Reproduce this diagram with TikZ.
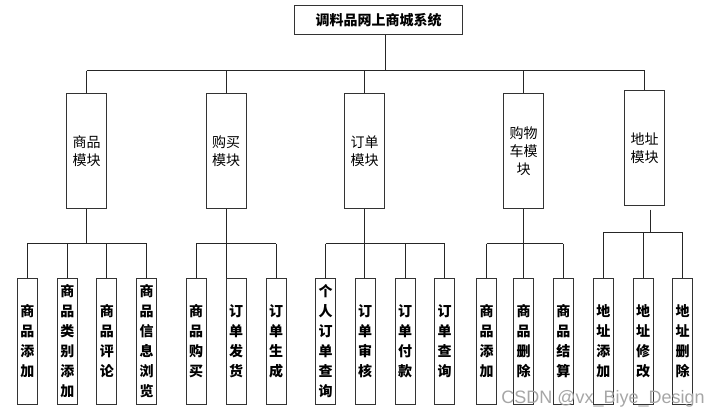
\documentclass[tikz,border=0pt]{standalone}
\usepackage{fontspec}
\newfontfamily\cjk{Noto Sans CJK SC}
\newfontfamily\wmfont{Liberation Sans}

\begin{document}
\begin{tikzpicture}[x=1pt,y=-1pt,line width=0.9pt,
  box/.style={draw=black!80,fill=white,inner sep=0pt,align=center},
  root node/.style={box,minimum width=168pt,minimum height=29pt,font=\cjk\bfseries\fontsize{14}{16}\selectfont},
  module node/.style={box,minimum width=40pt,minimum height=115pt,font=\cjk\fontsize{14}{18}\selectfont},
  leaf node/.style={box,minimum width=20pt,minimum height=126.5pt,font=\cjk\bfseries\fontsize{14}{20}\selectfont},
  link/.style={draw=black!85}]
\useasboundingbox (0,0) rectangle (721,416);

% system and modules
\node[root node] (root) at (378.5,20.2) {调料品网上商城系统};
\node[module node] (m1) at (86.7,150.9) {商品\\模块};
\node[module node] (m2) at (226,150.9) {购买\\模块};
\node[module node] (m3) at (364.7,150.9) {订单\\模块};
\node[module node] (m4) at (523.5,150.9) {购物\\车模\\块};
\node[module node] (m5) at (644.5,147.7) {地址\\模块};

% leaves
\node[leaf node] (l11) at (27.3,341.3) {商\\品\\添\\加};
\node[leaf node] (l12) at (67.3,341.3) {商\\品\\类\\别\\添\\加};
\node[leaf node] (l13) at (106.8,341.3) {商\\品\\评\\论};
\node[leaf node] (l14) at (146.5,341.3) {商\\品\\信\\息\\浏\\览};
\node[leaf node] (l21) at (196,341.3) {商\\品\\购\\买};
\node[leaf node] (l22) at (236,341.3) {订\\单\\发\\货};
\node[leaf node] (l23) at (276,341.3) {订\\单\\生\\成};
\node[leaf node] (l31) at (325.5,341.3) {个\\人\\订\\单\\查\\询};
\node[leaf node] (l32) at (365,341.3) {订\\单\\审\\核};
\node[leaf node] (l33) at (405,341.3) {订\\单\\付\\款};
\node[leaf node] (l34) at (444.5,341.3) {订\\单\\查\\询};
\node[leaf node] (l41) at (486.7,341.3) {商\\品\\添\\加};
\node[leaf node] (l42) at (523.7,341.3) {商\\品\\删\\除};
\node[leaf node] (l43) at (563.3,341.3) {商\\品\\结\\算};
\node[leaf node] (l51) at (603.3,341.3) {地\\址\\添\\加};
\node[leaf node] (l52) at (643,341.3) {地\\址\\修\\改};
\node[leaf node] (l53) at (682.7,341.3) {地\\址\\删\\除};

\coordinate (topbus) at (0,70.7);
\coordinate (bus) at (0,243.5);
\coordinate (addrbus) at (0,232);

% top level
\draw[link] ([xshift=6.8pt]root.south) -- ([xshift=6.8pt]root.south |- topbus);
\draw[link] (m1.north |- topbus) -- (m5.north |- topbus);
\foreach \m in {m1,m2,m3,m4,m5}
  \draw[link] (\m.north |- topbus) -- (\m.north);

% goods
\draw[link] (m1.south) -- (m1.south |- bus);
\draw[link] (l11.north |- bus) -- (l14.north |- bus);
\foreach \l in {l11,l12,l13,l14}
  \draw[link] (\l.north |- bus) -- (\l.north);

% purchase
\draw[link] (m2.south) -- (m2.south |- l22.north);
\draw[link] (l21.north |- bus) -- (l23.north |- bus);
\foreach \l in {l21,l23}
  \draw[link] (\l.north |- bus) -- (\l.north);

% orders
\draw[link] (m3.south) -- (m3.south |- l32.north);
\draw[link] (l31.north |- bus) -- (l34.north |- bus);
\foreach \l in {l31,l33,l34}
  \draw[link] (\l.north |- bus) -- (\l.north);

% cart
\draw[link] (m4.south) -- (m4.south |- l42.north);
\draw[link] (l41.north |- bus) -- (l43.north |- bus);
\foreach \l in {l41,l43}
  \draw[link] (\l.north |- bus) -- (\l.north);

% address
\draw[link] ([shift={(5.5,4)}]m5.south) -- ([xshift=5.5pt]m5.south |- addrbus);
\draw[link] (l51.north |- addrbus) -- (l53.north |- addrbus);
\foreach \l in {l51,l52,l53}
  \draw[link] (\l.north |- addrbus) -- (\l.north);

\node[anchor=base west,inner sep=0pt,text=black!35,font=\wmfont\fontsize{18}{20}\selectfont] (wm) at (501,403) {CSDN @vx\_Biye\_Design};
\end{tikzpicture}
\end{document}
